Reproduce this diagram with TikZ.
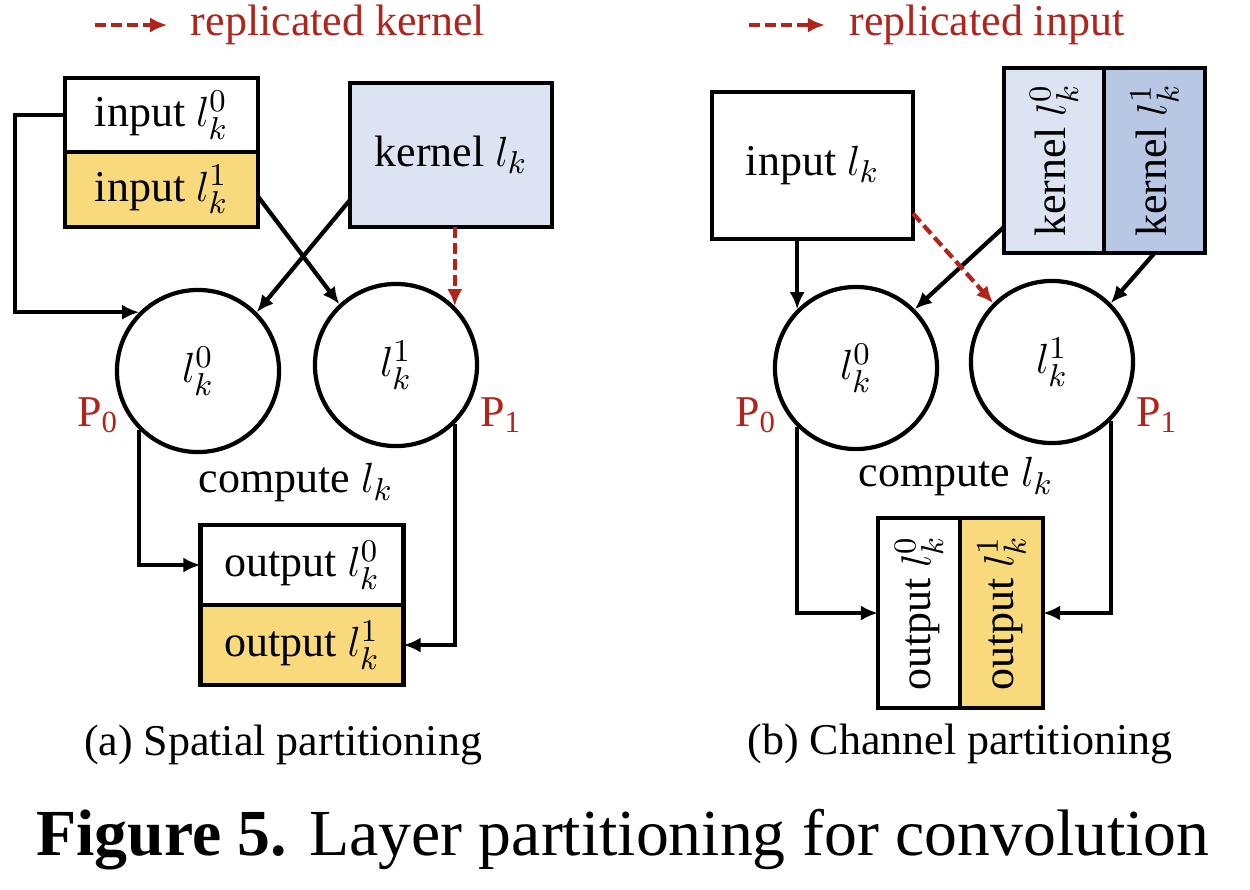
\documentclass[tikz,border=0pt]{standalone}
\usepackage{fontspec}
\setmainfont{Liberation Serif}
\usepackage{graphicx}
\usetikzlibrary{positioning,arrows.meta}
\definecolor{repred}{RGB}{176,36,28}
\definecolor{partyellow}{RGB}{248,218,124}
\definecolor{kernblue}{RGB}{220,227,242}
\definecolor{kernblueb}{RGB}{184,199,227}
\def\lk{l_k}

\begin{document}
\begin{tikzpicture}[x=0.01cm,y=-0.01cm,
    font=\fontsize{12.5}{15}\selectfont,
    blk/.style={draw,line width=1.2pt,outer sep=0pt,inner sep=0pt,align=center},
    proc/.style={draw,circle,line width=1.2pt,minimum size=1.62cm,inner sep=0pt},
    legtxt/.style={repred,inner sep=0pt},
    arr/.style={line width=1.2pt,-{Latex[length=0.17cm,width=0.15cm]}},
    reparr/.style={arr,repred,dash pattern=on 0.11cm off 0.05cm}]
  \useasboundingbox (0,0) rectangle (1250,890);

  % (a) spatial partitioning
  \node[legtxt] (legA) at (338,25) {replicated kernel};
  \draw[reparr] ([xshift=-0.95cm]legA.west) -- ([xshift=-0.23cm]legA.west);
  \node[blk,minimum width=1.93cm,minimum height=0.74cm] (in0) at (161.5,115) {input $\lk^0$};
  \node[blk,fill=partyellow,minimum width=1.93cm,minimum height=0.75cm,below=0pt of in0] (in1) {input $\lk^1$};
  \node[blk,fill=kernblue,minimum width=2.02cm,minimum height=1.44cm] (kern) at (451,155) {kernel $\lk$};
  \node[proc] (c0) at (198,371) {$\lk^0$};
  \node[proc] (c1) at (396,365) {$\lk^1$};
  \node[repred] (p0a) at (98,415) {P\textsubscript{0}};
  \node[repred] (p1a) at (501,415) {P\textsubscript{1}};
  \node (compA) at (296,483) {compute $\lk$};
  \node[blk,minimum width=2.03cm,minimum height=0.80cm] (out0) at (302,565) {output $\lk^0$};
  \node[blk,fill=partyellow,minimum width=2.03cm,minimum height=0.80cm,below=0pt of out0] (out1) {output $\lk^1$};
  \node (capA) at (283,745) {(a) Spatial partitioning};

  \draw[arr] (in0.west) -- ++(-50,0) |- (c0.135);
  \draw[arr] ([yshift=-0.07cm]in1.east) -- (c1.133);
  \draw[arr] ([yshift=-0.45cm]kern.west) -- (c0.45);
  \draw[reparr] (kern.south -| c1.45) -- (c1.45);
  \draw[arr] (c0.225) |- (out0.west);
  \draw[arr] (c1.-45) |- (out1.east);

  % (b) channel partitioning
  \node[legtxt] (legB) at (987,25) {replicated input};
  \draw[reparr] ([xshift=-1.0cm]legB.west) -- ([xshift=-0.24cm]legB.west);
  \node[blk,minimum width=2.01cm,minimum height=1.47cm] (inp) at (812.5,165.5) {input $\lk$};
  \node[blk,fill=kernblue,minimum width=1.0cm,minimum height=1.85cm] (k0) at (1054,160.5) {\rotatebox{90}{kernel $\lk^0$}};
  \node[blk,fill=kernblueb,minimum width=1.01cm,minimum height=1.85cm,right=0pt of k0] (k1) {\rotatebox{90}{kernel $\lk^1$}};
  \node[proc] (c2) at (856,368) {$\lk^0$};
  \node[proc] (c3) at (1052,362) {$\lk^1$};
  \node[repred] (p0b) at (756,415) {P\textsubscript{0}};
  \node[repred] (p1b) at (1157,415) {P\textsubscript{1}};
  \node (compB) at (956,477) {compute $\lk$};
  \node[blk,minimum width=0.82cm,minimum height=1.90cm] (out2) at (919,613) {\rotatebox{90}{output $\lk^0$}};
  \node[blk,fill=partyellow,minimum width=0.83cm,minimum height=1.90cm,right=0pt of out2] (out3) {\rotatebox{90}{output $\lk^1$}};
  \node (capB) at (960,744) {(b) Channel partitioning};

  \draw[arr] (inp.south -| c2.135) -- (c2.135);
  \draw[arr] ([yshift=0.26cm]k0.south west) -- (c2.45);
  \draw[arr] (k1.south) -- (c3.45);
  \draw[reparr] ([yshift=-0.48cm]inp.east) -- (c3.135);
  \draw[arr] (c2.225) |- (out2.west);
  \draw[arr] (c3.-45) |- (out3.east);

  \node (fig) at (623,840) {\fontsize{18.7}{21}\selectfont\textbf{Figure 5.} Layer partitioning for convolution};
\end{tikzpicture}
\end{document}
